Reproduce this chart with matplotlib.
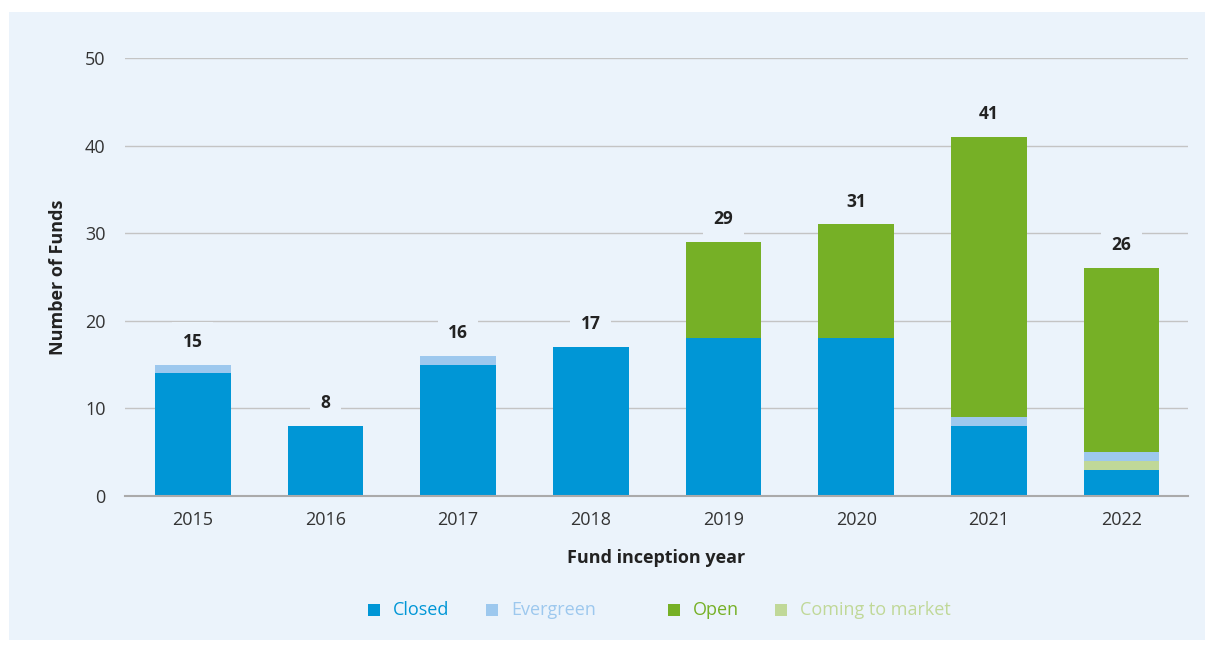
import matplotlib
matplotlib.use("Agg")
import matplotlib.pyplot as plt
from matplotlib.patches import Rectangle
import numpy as np

years = ["2015", "2016", "2017", "2018", "2019", "2020", "2021", "2022"]
closed = [14, 8, 15, 17, 18, 18, 8, 3]
coming = [0, 0, 0, 0, 0, 0, 0, 1]
evergreen = [1, 0, 1, 0, 0, 0, 1, 1]
open_ = [0, 0, 0, 0, 11, 13, 32, 21]
totals = [15, 8, 16, 17, 29, 31, 41, 26]
yticks = [0, 10, 20, 30, 40, 50]

C_CLOSED = "#0096D6"
C_EVER = "#9DC8EE"
C_OPEN = "#76B026"
C_COMING = "#C0D898"
BG = "#EBF3FB"

plt.rcParams['font.family'] = ['Open Sans', 'DejaVu Sans']

fig = plt.figure(figsize=(12.14, 6.45), dpi=100)
fig.patch.set_facecolor("white")
fig.patches.append(Rectangle((9/1214, 5/645), 1196/1214, 628/645, transform=fig.transFigure,
                             facecolor=BG, edgecolor="none", zorder=-10))

ax = fig.add_axes([125/1214, 149/645, 1063/1214, 438/645])
ax.set_facecolor("none")
x = np.arange(len(years))
w = 0.57
b = np.zeros(len(years))
for vals, col in [(closed, C_CLOSED), (coming, C_COMING), (evergreen, C_EVER), (open_, C_OPEN)]:
    ax.bar(x, vals, w, bottom=b, color=col, zorder=3, linewidth=0)
    b = b + np.array(vals)

for xi, t in zip(x, totals):
    ax.annotate(str(t), (xi, t), xytext=(0, 10), textcoords="offset points",
                ha="center", va="bottom", fontsize=12.5, fontweight="bold", color="#222222",
                zorder=5, bbox=dict(boxstyle="square,pad=0.6", facecolor=BG, edgecolor="none"))

ax.set_xlim(-0.51, 7.5)
ax.set_ylim(0, 50)
ax.set_yticks(yticks)
ax.set_xticks(x)
ax.set_xticklabels(years)
ax.tick_params(axis="both", length=0, labelsize=13, colors="#333333")
ax.tick_params(axis="y", pad=14)
ax.tick_params(axis="x", pad=11)
ax.grid(axis="y", color="#C4C4C4", linewidth=1, zorder=0)
for s in ["top", "right", "left"]:
    ax.spines[s].set_visible(False)
ax.spines["bottom"].set_color("#AAAAAA")
ax.spines["bottom"].set_linewidth(1.5)
ax.spines["bottom"].set_zorder(4)

ax.set_xlabel("Fund inception year", fontsize=13, fontweight="bold", color="#222222", labelpad=14)
ax.set_ylabel("Number of Funds", fontsize=13, fontweight="bold", color="#222222", labelpad=13)

legend_labels = ["Closed", "Evergreen", "Open", "Coming to market"]
legend_colors = [C_CLOSED, C_EVER, C_OPEN, C_COMING]
legend_x = [374, 492, 674, 781]
ly = 645 - 610
for lab, col, lx in zip(legend_labels, legend_colors, legend_x):
    fig.patches.append(Rectangle(((lx - 6) / 1214, (ly - 6) / 645), 12 / 1214, 12 / 645,
                                 transform=fig.transFigure, facecolor=col, edgecolor="none"))
    fig.text((lx + 19) / 1214, ly / 645, lab, color=col, fontsize=13, va="center", ha="left")

fig.savefig("out.png", dpi=100, facecolor=fig.get_facecolor())
